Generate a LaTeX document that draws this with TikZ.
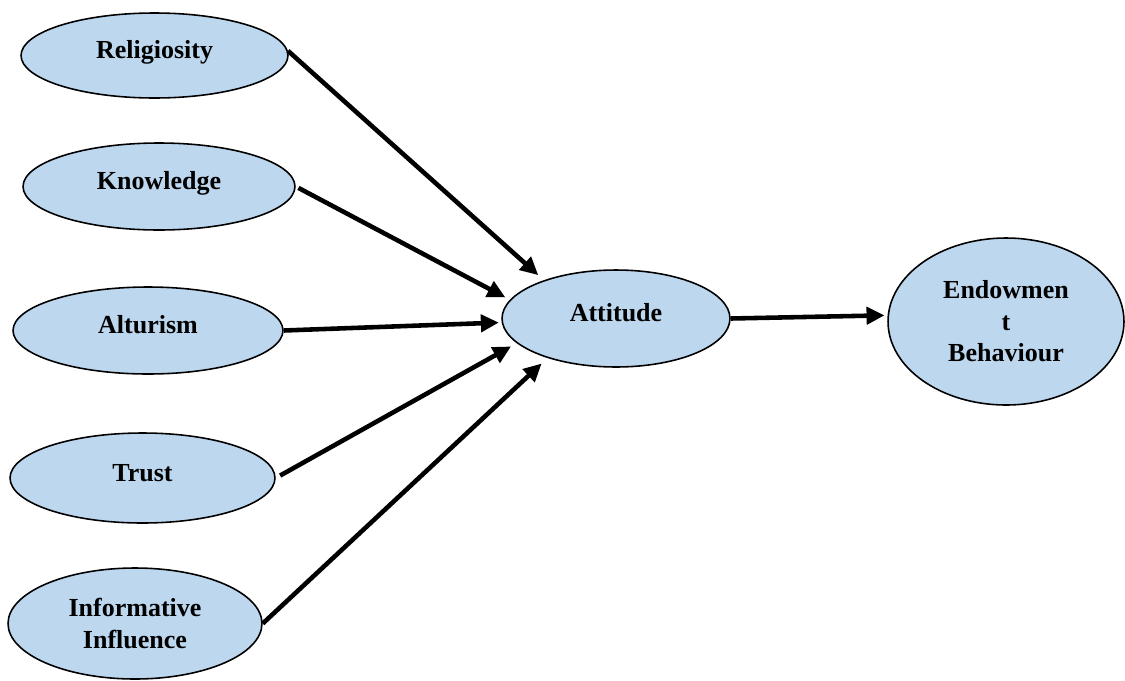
\documentclass[tikz,border=0pt]{standalone}
\usepackage{fontspec}
\setmainfont{Liberation Serif}
\usetikzlibrary{shapes.geometric,arrows.meta}
\definecolor{ellblue}{RGB}{189,215,238}

\begin{document}
\begin{tikzpicture}[x=0.02cm,y=-0.02cm,
  every node/.style={draw,ellipse,fill=ellblue,line width=0.9pt,inner sep=0pt,
    font=\fontsize{14.8pt}{17.9pt}\selectfont\bfseries},
  oneline/.style={text height=0.6em,text depth=0.25em},
  effect/.style={line width=2.6pt,-{Triangle[length=0.36cm,width=0.34cm]}}
]
\useasboundingbox (0,0) rectangle (1125,680);
% left column
\node[oneline,minimum width=5.34cm,minimum height=1.70cm] (rel) at (154.5,55.5) {Religiosity};
\node[oneline,minimum width=5.44cm,minimum height=1.74cm] (kno) at (159,186.5) {Knowledge};
\node[oneline,minimum width=5.40cm,minimum height=1.74cm] (alt) at (148,330.5) {Alturism};
\node[oneline,minimum width=5.30cm,minimum height=1.80cm] (tru) at (142.5,478) {Trust};
\node[align=center,minimum width=5.08cm,minimum height=2.22cm] (inf) at (135,623.5) {Informative\\Influence};
% middle and right
\node[oneline,minimum width=4.56cm,minimum height=1.94cm] (att) at (616,318.5) {Attitude};
\node[align=center,minimum width=4.72cm,minimum height=3.34cm] (beh) at (1006,321.5) {Endowmen\\t\\Behaviour};

\draw[effect,shorten >=0.15cm] (rel.2.4) -- (att.152.6);
\draw[effect,shorten <=0.06cm,shorten >=0.1cm] (kno.east) -- (att.170.2);
\draw[effect,shorten >=0.055cm] (alt.east) -- (att.182.7);
\draw[effect,shorten <=0.1cm,shorten >=0.13cm] (tru.east) -- (att.194.6);
\draw[effect,shorten >=0.16cm] (inf.east) -- (att.210.3);
\draw[effect,shorten >=0.06cm] (att.east) -- (beh.177.8);
\end{tikzpicture}
\end{document}
